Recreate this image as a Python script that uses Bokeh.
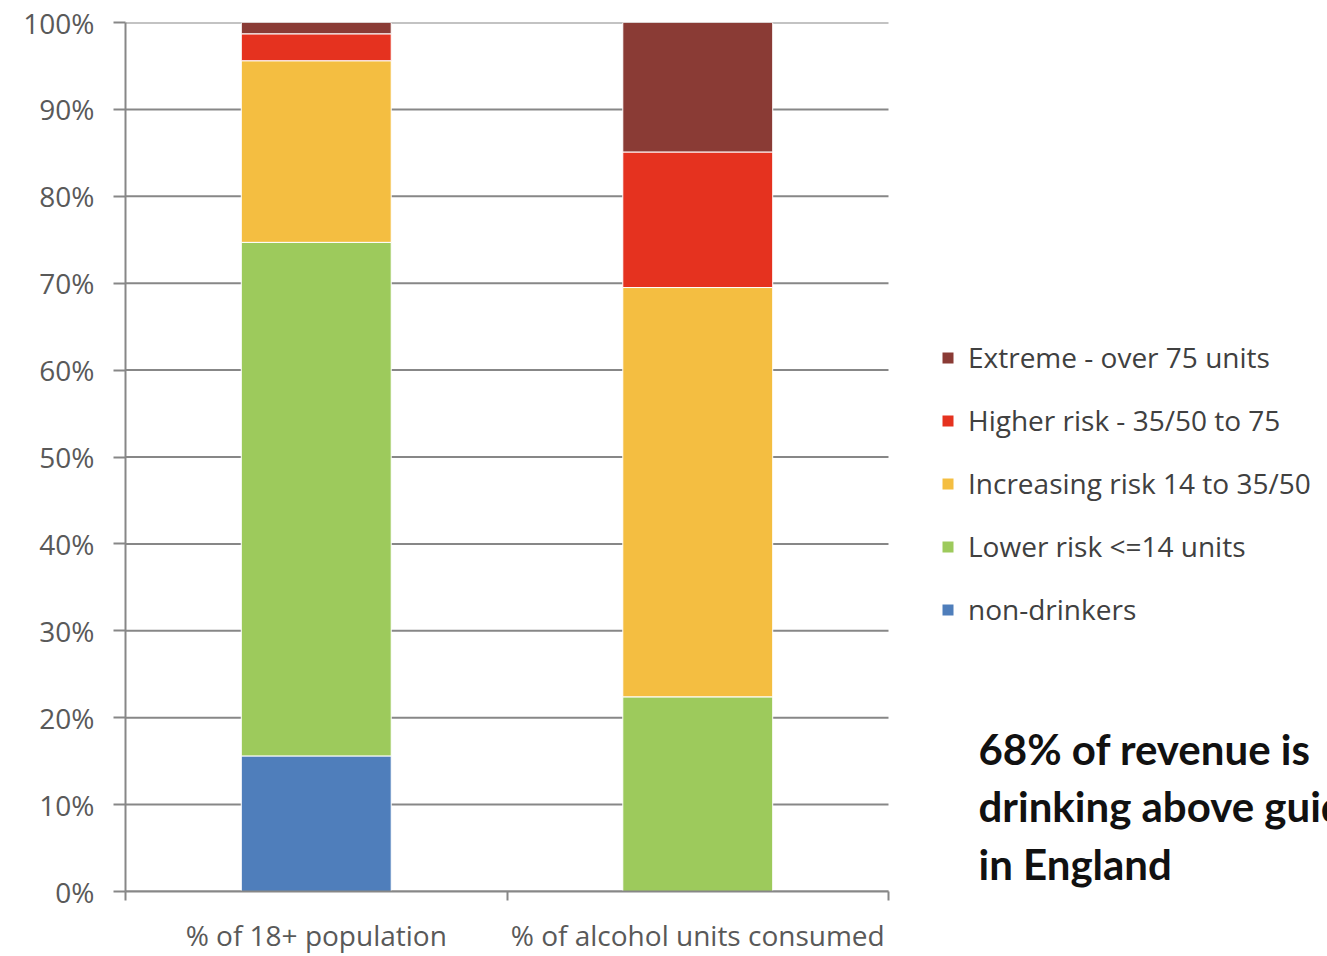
from bokeh.plotting import figure
from bokeh.models import (ColumnDataSource, FixedTicker, PrintfTickFormatter,
                          Legend, LegendItem, Label, Range1d)
from bokeh.embed import file_html
from bokeh.resources import INLINE

# Categories on the x axis
categories = ["% of 18+ population", "% of alcohol units consumed"]

# Drinking-level series, bottom of the stack first
series_names = [
    "non-drinkers",
    "Lower risk <=14 units",
    "Increasing risk 14 to 35/50",
    "Higher risk - 35/50 to 75",
    "Extreme - over 75 units",
]
non_drinkers = [15.6, 0.0]
lower_risk = [59.1, 22.4]
increasing_risk = [20.9, 47.1]
higher_risk = [3.1, 15.6]
extreme = [1.3, 14.9]

series_colors = ["#4F7EBB", "#9DCA5C", "#F4BE41", "#E5321F", "#8A3B35"]

# Percentage ticks on the y axis
y_ticks = [0, 10, 20, 30, 40, 50, 60, 70, 80, 90, 100]

note_lines = ["68% of revenue is", "drinking above guidelines", "in England"]

W, H = 1327, 956
FRAME_L, AXIS_R, FRAME_T, FRAME_B = 125, 888, 22, 892
n = len(categories)

keys = ["non", "lower", "increasing", "higher", "extreme"]
source = ColumnDataSource(dict(
    x=[i + 0.5 for i in range(n)],
    non=non_drinkers,
    lower=lower_risk,
    increasing=increasing_risk,
    higher=higher_risk,
    extreme=extreme,
))

# The frame runs to the right edge so the legend and note share it;
# the category axis and the grid stop at the last category.
x_end = n * (W - FRAME_L) / (AXIS_R - FRAME_L)
p = figure(width=W, height=H, output_backend="svg", toolbar_location=None,
           x_range=Range1d(0, x_end), y_range=Range1d(0, 100),
           min_border_left=FRAME_L, min_border_right=0,
           min_border_top=FRAME_T, min_border_bottom=H - FRAME_B)
p.outline_line_color = None
p.background_fill_color = "white"
p.border_fill_color = "white"

axis_grey = "#878787"
label_grey = "#595959"
tick_font = "Open Sans"

# Horizontal gridlines spanning only the category area
grid = ColumnDataSource(dict(x0=[0] * len(y_ticks), x1=[n] * len(y_ticks),
                             y=y_ticks))
p.segment(x0="x0", x1="x1", y0="y", y1="y", source=grid,
          line_color=axis_grey, line_width=2, level="underlay")

renderers = p.vbar_stack(keys, x="x", width=0.393, color=series_colors,
                         line_color="white", line_width=1, source=source)

# y axis: percentages with outward ticks
p.yaxis.ticker = FixedTicker(ticks=y_ticks)
p.yaxis.formatter = PrintfTickFormatter(format="%d%%")
p.yaxis.axis_line_color = axis_grey
p.yaxis.axis_line_width = 2
p.yaxis.major_tick_line_color = axis_grey
p.yaxis.major_tick_line_width = 2
p.yaxis.major_tick_out = 12
p.yaxis.major_tick_in = 0
p.yaxis.minor_tick_line_color = None
p.yaxis.major_label_text_font = tick_font
p.yaxis.major_label_text_font_size = "28px"
p.yaxis.major_label_text_color = label_grey
p.yaxis.major_label_standoff = 19

# x axis: labels at category centres, tick marks at category boundaries
p.xaxis.ticker = FixedTicker(ticks=[i + 0.5 for i in range(n)],
                             minor_ticks=list(range(n + 1)))
p.xaxis.major_label_overrides = {i + 0.5: c for i, c in enumerate(categories)}
p.xaxis.bounds = (0, n)
p.xaxis.axis_line_color = axis_grey
p.xaxis.axis_line_width = 2
p.xaxis.major_tick_line_color = None
p.xaxis.major_tick_out = 0
p.xaxis.major_tick_in = 0
p.xaxis.minor_tick_line_color = axis_grey
p.xaxis.minor_tick_line_width = 2
p.xaxis.minor_tick_out = 9
p.xaxis.minor_tick_in = 0
p.xaxis.major_label_text_font = tick_font
p.xaxis.major_label_text_font_size = "28px"
p.xaxis.major_label_text_color = label_grey
p.xaxis.major_label_standoff = 15

p.xgrid.grid_line_color = None
p.ygrid.grid_line_color = None

# Legend, top series first
items = [LegendItem(label=name, renderers=[r])
         for name, r in reversed(list(zip(series_names, renderers)))]
legend = Legend(items=items, location=(940 - FRAME_L, FRAME_B - 629),
                padding=0, margin=0, border_line_color=None,
                background_fill_alpha=0, glyph_width=15, glyph_height=15,
                label_height=30, spacing=25, label_standoff=13,
                label_text_font=tick_font, label_text_font_size="28px",
                label_text_color="#404040")
p.add_layout(legend, "center")

note = Label(x=978 - FRAME_L, y=FRAME_B - 724, x_units="screen", y_units="screen",
             text="\n".join(note_lines), text_font="Lato", text_font_style="bold",
             text_font_size="42px", text_color="#111111", text_baseline="top",
             text_line_height=1.15)
p.add_layout(note)

open("out.html", "w").write(file_html(p, INLINE))
